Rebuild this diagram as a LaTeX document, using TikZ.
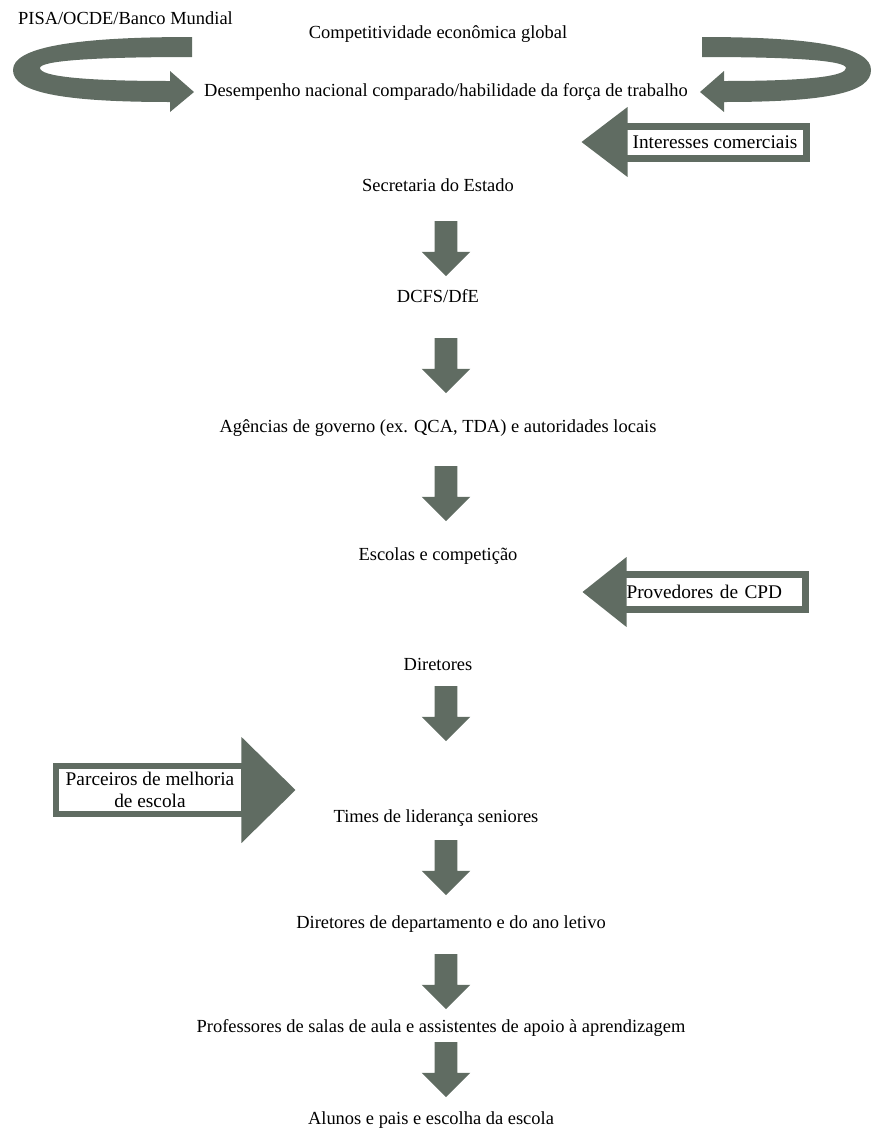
\documentclass[tikz,border=0pt]{standalone}
\usepackage{fontspec}
\setmainfont{Liberation Serif}
\usetikzlibrary{shapes.arrows}
\usetikzlibrary{calc}

\definecolor{arrowgrey}{RGB}{96,108,98}

\begin{document}
\begin{tikzpicture}[x=0.02cm, y=-0.02cm,
  txt/.style={font=\fontsize{10.5}{12}\selectfont, inner sep=1pt},
  downarrow/.style={
    single arrow,
    fill=arrowgrey,
    rotate=-90,
    minimum height=1.1cm,
    minimum width=0.96cm,
    single arrow head extend=0.26cm,
    single arrow tip angle=90,
    inner xsep=0pt,
    inner ysep=0.22cm},
  sidelabel/.style 2 args={
    draw=arrowgrey,
    line width=#2,
    outer sep=0pt,
    fill=white,
    minimum width=#1,
    inner sep=2pt,
    font=\fontsize{11}{12.5}\selectfont}]
  \useasboundingbox (0,0) rectangle (876,1133);
  % top loop arrows
  \fill[arrowgrey] (192,37) .. controls (70,37) and (13,48) .. (13,70)
    .. controls (13,92) and (60,102) .. (170,102) -- (170,112) -- (194,92)
    -- (170,71) -- (170,81) .. controls (80,81) and (40,76) .. (40,68)
    .. controls (40,61) and (90,57) .. (192,57) -- cycle;
  \fill[arrowgrey] (702,37) .. controls (820,37) and (871,48) .. (871,70)
    .. controls (871,92) and (830,102) .. (724,102) -- (724,112) -- (700,92)
    -- (724,71) -- (724,81) .. controls (810,81) and (846,76) .. (846,68)
    .. controls (846,61) and (800,57) .. (702,57) -- cycle;
  % text of the chain
  \node[txt, anchor=west] (pisa) at (16,18) {PISA/OCDE/Banco Mundial};
  \node[txt] (cglob) at (438,34) {Competitividade econômica global};
  \node[txt] (desemp) at (446,92) {Desempenho nacional comparado/habilidade da força de trabalho};
  \node[txt] (sec) at (438,185) {Secretaria do Estado};
  \node[txt] (dcfs) at (438,296) {DCFS/DfE};
  \node[txt] (agen) at (438,428) {Agências de governo (ex. QCA, TDA) e autoridades locais};
  \node[txt] (esc) at (438,556) {Escolas e competição};
  \node[txt] (dir) at (438,664) {Diretores};
  \node[txt] (times) at (436,818) {Times de liderança seniores};
  \node[txt] (dirdep) at (451,924) {Diretores de departamento e do ano letivo};
  \node[txt] (prof) at (441,1028) {Professores de salas de aula e assistentes de apoio à aprendizagem};
  \node[txt] (alun) at (431,1120) {Alunos e pais e escolha da escola};
  % down arrows
  \foreach \y [count=\i] in {243,360,488,708,862,976,1064}
    \node[downarrow] (a\i) at (446,\y) {};
  % side arrows with boxed labels
  \node[sidelabel={3.66cm}{0.14cm}, minimum height=0.64cm] (ic) at (715,142) {Interesses comerciais};
  \fill[arrowgrey] ($(ic.west)+(4,-35)$) -- ($(ic.west)+(-42,0)$) -- ($(ic.west)+(4,35)$) -- cycle;
  \node[sidelabel={3.66cm}{0.14cm}, minimum height=0.7cm, text width=3.5cm, align=left] (cpd) at (714,592) {Provedores de CPD};
  \fill[arrowgrey] ($(cpd.west)+(4,-35)$) -- ($(cpd.west)+(-40,0)$) -- ($(cpd.west)+(4,35)$) -- cycle;
  \node[sidelabel={3.78cm}{0.12cm}, minimum height=0.96cm, align=center] (pm) at (150,790) {Parceiros de melhoria\\de escola};
  \fill[arrowgrey] ($(pm.east)+(-3,-53)$) -- ($(pm.east)+(51,0)$) -- ($(pm.east)+(-3,53)$) -- cycle;
\end{tikzpicture}
\end{document}
